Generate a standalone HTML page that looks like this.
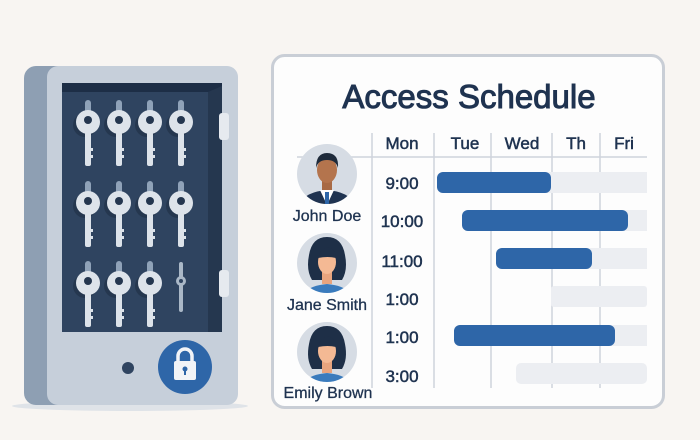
<!DOCTYPE html>
<html><head><meta charset="utf-8"><style>
html,body{margin:0;padding:0;background:#f8f5f2;}
svg{display:block;}
text{font-family:"Liberation Sans",sans-serif;fill:#1f3350;}
.m{stroke:#1f3350;stroke-width:0.5;}
</style></head><body>
<svg width="700" height="440" viewBox="0 0 700 440" xmlns="http://www.w3.org/2000/svg">
<rect width="700" height="440" fill="#f8f5f2"/>
<ellipse cx="130" cy="406" rx="118" ry="5" fill="#dfe3e8"/>
<rect x="24" y="66" width="120" height="339" rx="12" fill="#8e9fb3"/>
<rect x="47" y="66" width="191" height="339" rx="11" fill="#c6cfda"/>
<rect x="62" y="83" width="160" height="249" fill="#2f4460"/>
<rect x="62" y="83" width="160" height="9" fill="#1d2e46"/>
<polygon points="208,92 222,86 222,332 208,332" fill="#25374f"/>
<rect x="219" y="113" width="10" height="27" rx="3" fill="#e6eaef"/>
<rect x="219" y="270" width="10" height="27" rx="3" fill="#e6eaef"/>
<defs>
<g id="k">
<rect x="-3" y="-22" width="6" height="20" rx="3" fill="#8fa2b8"/>
<circle cx="-3" cy="3" r="12" fill="#25374f"/>
<circle cx="0" cy="0" r="12" fill="#dde3ea"/>
<circle cx="0" cy="-2" r="4" fill="#24364f"/>
<rect x="-3" y="10" width="6" height="34" rx="2" fill="#dde3ea"/>
<rect x="2" y="26" width="3" height="3" fill="#dde3ea"/>
<rect x="2" y="33" width="3" height="3" fill="#dde3ea"/>
</g>
</defs>
<use href="#k" x="88" y="122"/><use href="#k" x="119" y="122"/><use href="#k" x="150" y="122"/><use href="#k" x="181" y="122"/>
<use href="#k" x="88" y="203"/><use href="#k" x="119" y="203"/><use href="#k" x="150" y="203"/><use href="#k" x="181" y="203"/>
<use href="#k" x="88" y="283"/><use href="#k" x="119" y="283"/><use href="#k" x="150" y="283"/>
<rect x="179" y="262" width="4" height="50" rx="2" fill="#aab8c7"/>
<circle cx="181" cy="281" r="5" fill="#aab8c7"/><circle cx="181" cy="281" r="2" fill="#2f4460"/>
<circle cx="128" cy="368" r="6" fill="#2f4460"/>
<circle cx="185" cy="367" r="27" fill="#2e66a8"/>
<path d="M178 362 v-6 a7 7 0 0 1 14 0 v6" fill="none" stroke="#f2f4f7" stroke-width="3.5"/>
<rect x="174" y="361" width="22" height="19" rx="2" fill="#f2f4f7"/>
<circle cx="185" cy="369" r="2.5" fill="#2e66a8"/><rect x="184" y="369" width="2" height="6" fill="#2e66a8"/>
<rect x="272.5" y="55.5" width="391" height="352" rx="12" fill="#fdfdfd" stroke="#c9ced6" stroke-width="3"/>
<text x="469" y="108" font-size="33" text-anchor="middle" class="m" style="stroke-width:1">Access Schedule</text>
<g stroke="#cfd4dc" stroke-width="1.5">
<line x1="372" y1="133" x2="372" y2="388"/><line x1="434" y1="133" x2="434" y2="388"/>
<line x1="491" y1="133" x2="491" y2="388"/><line x1="552" y1="133" x2="552" y2="388"/>
<line x1="600" y1="133" x2="600" y2="388"/>
<line x1="297" y1="157" x2="647" y2="157"/>
</g>
<g font-size="17" text-anchor="middle" class="m">
<text x="402" y="149">Mon</text><text x="465" y="149">Tue</text><text x="522" y="149">Wed</text><text x="576" y="149">Th</text><text x="624" y="149">Fri</text>
<text x="402" y="189">9:00</text><text x="402" y="227">10:00</text><text x="402" y="267">11:00</text>
<text x="402" y="305">1:00</text><text x="402" y="343">1:00</text><text x="402" y="382">3:00</text>
</g>
<g fill="#eceef2">
<rect x="540" y="172" width="107" height="21"/><rect x="600" y="210" width="47" height="21"/>
<rect x="580" y="248" width="67" height="21"/><rect x="551" y="286" width="96" height="21" rx="3"/>
<rect x="600" y="325" width="47" height="21"/><rect x="516" y="363" width="131" height="21" rx="5"/>
</g>
<g fill="#2e66a8">
<rect x="437" y="172" width="114" height="21" rx="6"/>
<rect x="462" y="210" width="166" height="21" rx="6"/>
<rect x="496" y="248" width="96" height="21" rx="6"/>
<rect x="454" y="325" width="161" height="21" rx="6"/>
</g>
<clipPath id="c1"><circle cx="327" cy="174" r="30"/></clipPath>
<clipPath id="c2"><circle cx="327" cy="263" r="30"/></clipPath>
<clipPath id="c3"><circle cx="327" cy="352" r="30"/></clipPath>
<circle cx="327" cy="174" r="30" fill="#d6dce4"/>
<g clip-path="url(#c1)">
<path d="M297 210 q4 -18 30 -20 q26 2 30 20z" fill="#1f3350"/>
<polygon points="320,190 334,190 327,205" fill="#fff"/>
<rect x="325" y="192" width="4" height="14" fill="#2e66a8"/>
<rect x="322" y="180" width="10" height="10" fill="#a86a45"/>
<ellipse cx="327" cy="170" rx="10" ry="13" fill="#b4744d"/>
<path d="M316 168 q0 -15 11 -15 q12 0 11 15 q-2 -8 -11 -8 q-9 0 -11 8z" fill="#1e2a3a"/>
</g>
<circle cx="327" cy="263" r="30" fill="#d6dce4"/>
<g clip-path="url(#c2)">
<path d="M312 280 q-6 -10 -3 -25 q3 -18 18 -18 q15 0 18 18 q3 15 -3 25z" fill="#1e2f47"/>
<path d="M300 300 q4 -14 27 -16 q23 2 27 16z" fill="#3a7bbd"/>
<rect x="322" y="272" width="10" height="12" fill="#e8a47e"/>
<ellipse cx="327" cy="262" rx="9" ry="12" fill="#f4b994"/>
<path d="M318 258 q3 -12 12 -10 q6 2 6 10 q-8 -2 -18 0z" fill="#1e2f47"/>
</g>
<circle cx="327" cy="352" r="30" fill="#d6dce4"/>
<g clip-path="url(#c3)">
<path d="M312 369 q-6 -10 -3 -25 q3 -18 18 -18 q15 0 18 18 q3 15 -3 25z" fill="#1e2f47"/>
<path d="M300 389 q4 -14 27 -16 q23 2 27 16z" fill="#3a7bbd"/>
<rect x="322" y="361" width="10" height="12" fill="#e8a47e"/>
<ellipse cx="327" cy="351" rx="9" ry="12" fill="#f4b994"/>
<path d="M318 347 q3 -12 12 -10 q6 2 6 10 q-8 -2 -18 0z" fill="#1e2f47"/>
</g>
<g font-size="16" text-anchor="middle" class="m" style="stroke-width:0.3">
<text x="327" y="221">John Doe</text><text x="327" y="310">Jane Smith</text><text x="328" y="398">Emily Brown</text>
</g>
</svg>
</body></html>
